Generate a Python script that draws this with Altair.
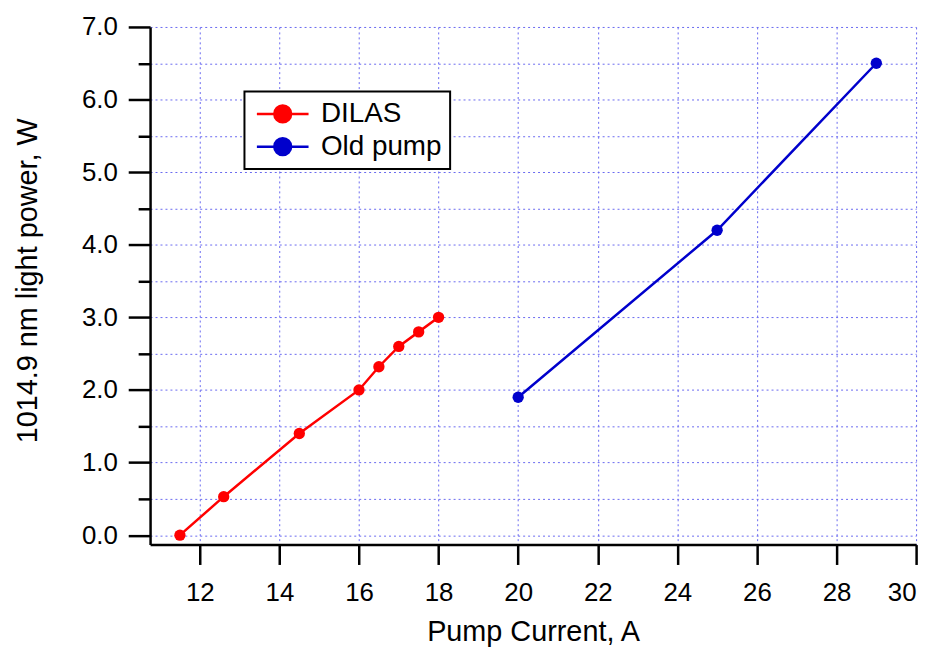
import altair as alt
import pandas as pd

# ---- data ----
dilas_current = [11.5, 12.6, 14.5, 16.0, 16.5, 17.0, 17.5, 18.0]
dilas_power = [0.0, 0.53, 1.40, 2.0, 2.32, 2.60, 2.80, 3.0]
old_current = [20.0, 25.0, 29.0]
old_power = [1.90, 4.20, 6.50]

series_names = ["DILAS", "Old pump"]
series_colors = ["#ff0000", "#0000cc"]

x_ticks = [12, 14, 16, 18, 20, 22, 24, 26, 28, 30]
y_ticks = [0.0, 0.5, 1.0, 1.5, 2.0, 2.5, 3.0, 3.5, 4.0, 4.5, 5.0, 5.5, 6.0, 6.5, 7.0]

rows = []
for c, p in zip(dilas_current, dilas_power):
    rows.append({"current": c, "power": p, "series": series_names[0]})
for c, p in zip(old_current, old_power):
    rows.append({"current": c, "power": p, "series": series_names[1]})
df = pd.DataFrame(rows)

FONT = "Liberation Sans"
GRID = "#6a6af0"

x_enc = alt.X(
    "current:Q",
    scale=alt.Scale(domain=[10.75, 30], nice=False, zero=False),
    axis=alt.Axis(
        values=x_ticks, format="d", title="Pump Current, A",
        labelFont=FONT, labelFontSize=26, labelColor="black", labelPadding=15,
        tickSize=20, tickWidth=2.5, tickColor="black",
        domainColor="black", domainWidth=2.5,
        grid=True, gridColor=GRID, gridDash=[2, 3], gridWidth=1,
        titleFont=FONT, titleFontSize=29, titleFontWeight="normal", titleColor="black",
        titleY=97, titleBaseline="alphabetic",
    ),
)

y_enc = alt.Y(
    "power:Q",
    scale=alt.Scale(domain=[-0.13, 7.0], nice=False, zero=False),
    axis=alt.Axis(
        values=y_ticks, title="1014.9 nm light power, W",
        labelExpr="datum.value % 1 == 0 ? format(datum.value, '.1f') : ''",
        labelFont=FONT, labelFontSize=26, labelColor="black", labelPadding=11,
        tickSize={"condition": {"test": "datum.value % 1 == 0", "value": 22}, "value": 12},
        tickWidth=2.5, tickColor="black",
        domainColor="black", domainWidth=2.5,
        grid=True, gridColor=GRID, gridDash=[2, 3], gridWidth=1,
        titleFont=FONT, titleFontSize=29, titleFontWeight="normal", titleColor="black",
        titleX=-114, titleY=255, titleBaseline="alphabetic",
    ),
)

legend_symbol = (
    "M-2,0L2,0M-0.65,0A0.65,0.65,0,1,1,0.65,0A0.65,0.65,0,1,1,-0.65,0Z"
)

color_scale = alt.Scale(domain=series_names, range=series_colors)
legend = alt.Legend(
    title=None, orient="none", legendX=95, legendY=65,
    symbolType=legend_symbol, symbolSize=676, symbolStrokeWidth=2.5,
    symbolOffset=16, labelOffset=24, padding=8, rowPadding=4,
    labelFont=FONT, labelFontSize=28, labelColor="black",
    strokeColor="black", fillColor="white",
)
color_enc = alt.Color("series:N", scale=color_scale, legend=legend)

lines = alt.Chart(df).mark_line(strokeWidth=2.5).encode(
    x=x_enc, y=y_enc, color=color_enc,
)

points = alt.Chart(df).mark_point(filled=True, size=130, opacity=1).encode(
    x=x_enc, y=y_enc, color=color_enc,
)

chart = (
    alt.layer(lines, points)
    .properties(
        width=771, height=521,
        autosize=alt.AutoSizeParams(type="none"),
        padding={"left": 143, "top": 17, "right": 15, "bottom": 102},
    )
    .configure_view(strokeWidth=0)
    .configure_legend(strokeWidth=2)
)

chart.save("out.html", embed_options={"renderer": "svg", "actions": False})
